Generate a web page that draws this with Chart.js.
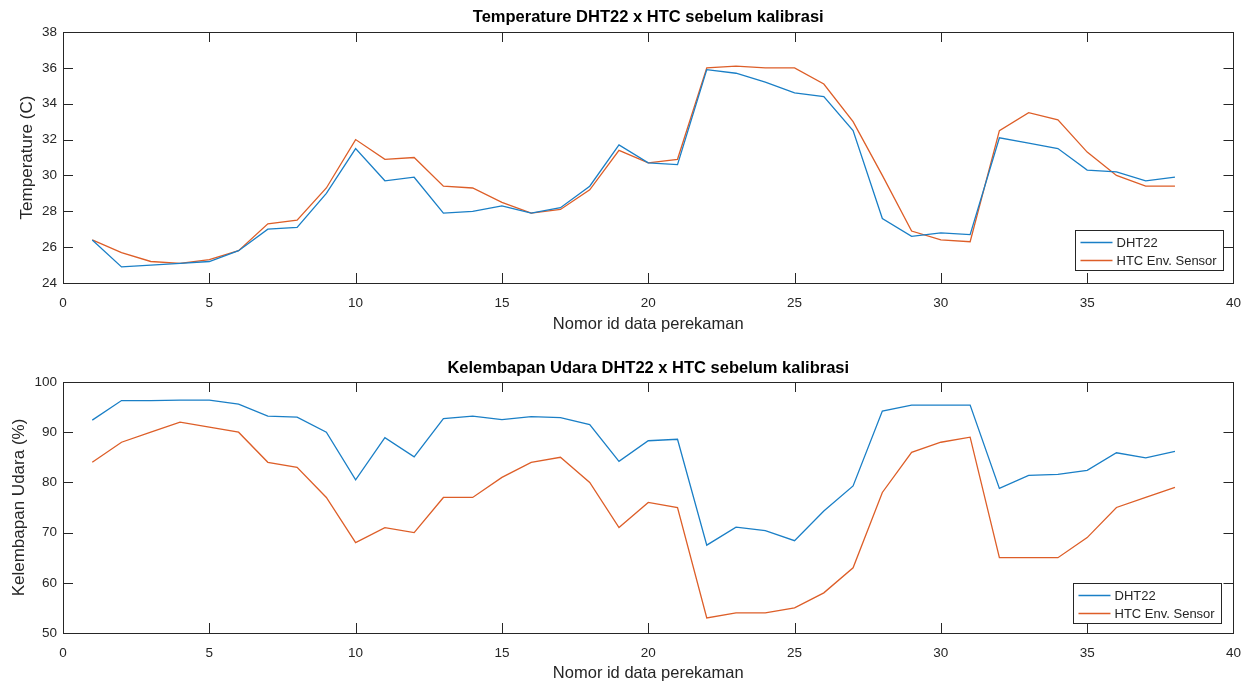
<!DOCTYPE html>
<html>
<head>
<meta charset="utf-8">
<script src="https://cdn.jsdelivr.net/npm/chart.js@4.4.1/dist/chart.umd.min.js"></script>
<style>
    html, body { margin: 0; padding: 0; background: #fff; }
    canvas { display: block; }
</style>
</head>
<body>
<canvas id="temp-chart" width="1253" height="342"></canvas>
<canvas id="hum-chart" width="1253" height="342"></canvas>
<script>
// record id on the x axis
const ids = [1, 2, 3, 4, 5, 6, 7, 8, 9, 10, 11, 12, 13, 14, 15, 16, 17, 18, 19,
    20, 21, 22, 23, 24, 25, 26, 27, 28, 29, 30, 31, 32, 33, 34, 35, 36, 37, 38];

const tempDht = [26.4, 24.9, 25.0, 25.1, 25.2, 25.8, 27.0, 27.1, 29.0, 31.5, 29.7, 29.9, 27.9,
    28.0, 28.3, 27.9, 28.2, 29.4, 31.7, 30.7, 30.6, 35.9, 35.7, 35.2, 34.6, 34.4, 32.5, 27.6,
    26.6, 26.8, 26.7, 32.1, 31.8, 31.5, 30.3, 30.2, 29.7, 29.9];
const tempHtc = [26.4, 25.7, 25.2, 25.1, 25.3, 25.8, 27.3, 27.5, 29.3, 32.0, 30.9, 31.0, 29.4,
    29.3, 28.5, 27.9, 28.1, 29.2, 31.4, 30.7, 30.9, 36.0, 36.1, 36.0, 36.0, 35.1, 33.0, 30.0,
    26.9, 26.4, 26.3, 32.5, 33.5, 33.1, 31.3, 30.0, 29.4, 29.4];

const humDht = [92.4, 96.3, 96.3, 96.4, 96.4, 95.6, 93.2, 93.0, 90.0, 80.5, 88.9, 85.1, 92.7,
    93.2, 92.5, 93.1, 92.9, 91.5, 84.2, 88.3, 88.6, 67.5, 71.1, 70.4, 68.4, 74.3, 79.3, 94.2,
    95.4, 95.4, 95.4, 78.8, 81.4, 81.6, 82.4, 85.9, 84.9, 86.2];
const humHtc = [84, 88, 90, 92, 91, 90, 84, 83, 77, 68, 71, 70, 77, 77, 81, 84, 85, 80, 71, 76,
    75, 53, 54, 54, 55, 58, 63, 78, 86, 88, 89, 65, 65, 65, 69, 75, 77, 79];

const seriesNames = ['DHT22', 'HTC Env. Sensor'];
const blue = '#1a7fc6';
const orange = '#dd5e28';
const axisColor = '#262626';
const fontFamily = '"Liberation Sans", Arial, Helvetica, sans-serif';

// matlab style box with inward tick marks on all four sides
const boxTicks = {
    id: 'boxTicks',
    afterDraw(chart) {
        const ctx = chart.ctx;
        const a = chart.chartArea;
        const xs = chart.scales.x;
        const ys = chart.scales.y;
        const len = 10;
        ctx.save();
        ctx.strokeStyle = axisColor;
        ctx.lineWidth = 1;
        ctx.beginPath();
        xs.ticks.forEach((t) => {
            const px = Math.round(xs.getPixelForValue(t.value)) + 0.5;
            ctx.moveTo(px, a.bottom);
            ctx.lineTo(px, a.bottom - len);
            ctx.moveTo(px, a.top);
            ctx.lineTo(px, a.top + len);
        });
        ys.ticks.forEach((t) => {
            const py = Math.round(ys.getPixelForValue(t.value)) + 0.5;
            ctx.moveTo(a.left, py);
            ctx.lineTo(a.left + len, py);
            ctx.moveTo(a.right, py);
            ctx.lineTo(a.right - len, py);
        });
        ctx.stroke();
        ctx.strokeRect(Math.round(a.left) + 0.5, Math.round(a.top) + 0.5,
            Math.round(a.right - a.left), Math.round(a.bottom - a.top));
        ctx.restore();
    }
};

// title centred over the plot box, like matlab does it
const boxTitle = {
    id: 'boxTitle',
    afterDraw(chart, args, opts) {
        const ctx = chart.ctx;
        const a = chart.chartArea;
        ctx.save();
        ctx.font = 'bold 16.5px ' + fontFamily;
        ctx.fillStyle = '#000';
        ctx.textAlign = 'center';
        ctx.textBaseline = 'middle';
        ctx.fillText(opts.text, (a.left + a.right) / 2, opts.y);
        ctx.restore();
    }
};

// legend box in the lower right corner of the plot
const cornerLegend = {
    id: 'cornerLegend',
    afterDraw(chart, args, opts) {
        const ctx = chart.ctx;
        const a = chart.chartArea;
        const w = 148, h = 40;
        const x = a.right - opts.right - w;
        const y = a.bottom - opts.bottom - h;
        ctx.save();
        ctx.fillStyle = '#fff';
        ctx.fillRect(x, y, w, h);
        ctx.strokeStyle = axisColor;
        ctx.lineWidth = 1;
        ctx.strokeRect(Math.round(x) + 0.5, Math.round(y) + 0.5, w, h);
        ctx.font = '13px ' + fontFamily;
        ctx.textBaseline = 'middle';
        chart.data.datasets.forEach((ds, i) => {
            const ry = Math.round(y + 12 + i * 18) + 0.5;
            ctx.strokeStyle = ds.borderColor;
            ctx.lineWidth = 1.3;
            ctx.beginPath();
            ctx.moveTo(x + 5, ry);
            ctx.lineTo(x + 37, ry);
            ctx.stroke();
            ctx.fillStyle = axisColor;
            ctx.fillText(ds.label, x + 41, ry + 0.5);
        });
        ctx.restore();
    }
};

function makeOptions(cfg) {
    return {
        responsive: false,
        animation: false,
        layout: {padding: {left: 0, right: 19, top: cfg.areaTop, bottom: 0}},
        plugins: {
            legend: {display: false},
            tooltip: {enabled: false},
            title: {display: false},
            boxTitle: {text: cfg.title, y: cfg.titleY},
            cornerLegend: cfg.legend
        },
        scales: {
            x: {
                type: 'linear',
                min: 0,
                max: 40,
                ticks: {
                    stepSize: 5,
                    color: axisColor,
                    padding: 12,
                    font: {family: fontFamily, size: 13.5}
                },
                grid: {display: false, drawTicks: false},
                border: {display: false},
                title: {
                    display: true,
                    text: 'Nomor id data perekaman',
                    color: axisColor,
                    font: {family: fontFamily, size: 16.5},
                    padding: {top: 0, bottom: cfg.xTitlePad}
                },
                afterFit: (scale) => { scale.height = cfg.xHeight; }
            },
            y: {
                min: cfg.yMin,
                max: cfg.yMax,
                ticks: {
                    stepSize: cfg.yStep,
                    color: axisColor,
                    padding: 6,
                    font: {family: fontFamily, size: 13.5}
                },
                grid: {display: false, drawTicks: false},
                border: {display: false},
                title: {
                    display: true,
                    text: cfg.yTitle,
                    color: axisColor,
                    font: {family: fontFamily, size: 17},
                    padding: {top: cfg.yTitlePad, bottom: 0}
                },
                afterFit: (scale) => { scale.width = 63; }
            }
        }
    };
}

function makeData(a, b) {
    const toPoints = (vals) => vals.map((v, i) => ({x: ids[i], y: v}));
    return {
        datasets: [
            {label: seriesNames[0], data: toPoints(a), borderColor: blue, borderWidth: 1.3,
                pointRadius: 0, tension: 0, fill: false},
            {label: seriesNames[1], data: toPoints(b), borderColor: orange, borderWidth: 1.3,
                pointRadius: 0, tension: 0, fill: false}
        ]
    };
}

new Chart(document.getElementById('temp-chart'), {
    type: 'line',
    data: makeData(tempDht, tempHtc),
    options: makeOptions({
        title: 'Temperature DHT22 x HTC sebelum kalibrasi',
        titleY: 17,
        areaTop: 32,
        yTitle: 'Temperature (C)',
        yTitlePad: 17,
        yMin: 24, yMax: 38, yStep: 2,
        xHeight: 59,
        xTitlePad: 8,
        legend: {right: 10, bottom: 13}
    }),
    plugins: [boxTicks, boxTitle, cornerLegend]
});

new Chart(document.getElementById('hum-chart'), {
    type: 'line',
    data: makeData(humDht, humHtc),
    options: makeOptions({
        title: 'Kelembapan Udara DHT22 x HTC sebelum kalibrasi',
        titleY: 26,
        areaTop: 40,
        yTitle: 'Kelembapan Udara (%)',
        yTitlePad: 9,
        yMin: 50, yMax: 100, yStep: 10,
        xHeight: 51,
        xTitlePad: 1,
        legend: {right: 12, bottom: 10}
    }),
    plugins: [boxTicks, boxTitle, cornerLegend]
});
</script>
</body>
</html>
